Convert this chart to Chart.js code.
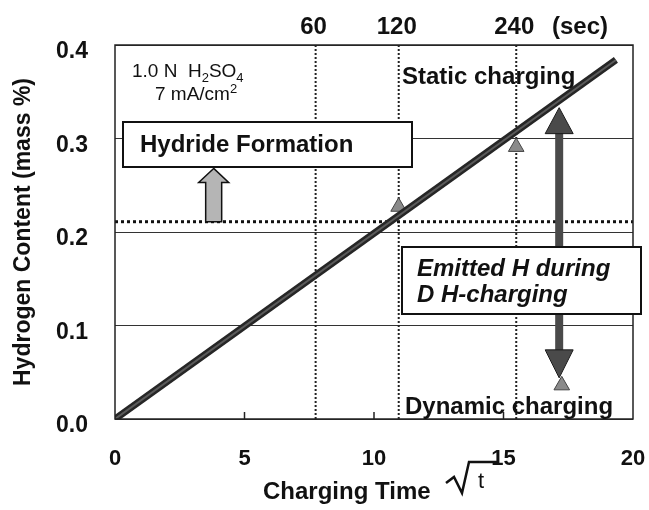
<!DOCTYPE html>
<html>
<head>
<meta charset="utf-8">
<script src="https://cdn.jsdelivr.net/npm/chart.js@4.4.1/dist/chart.umd.min.js"></script>
<style>
  html, body { margin: 0; padding: 0; background: #fff; }
  #wrap { width: 649px; height: 510px; }
</style>
</head>
<body>
<div id="wrap"><canvas id="myChart" width="649" height="510"></canvas></div>
<script>
// chart values
const xTicks = [0, 5, 10, 15, 20];
const yTicks = [0, 0.1, 0.2, 0.3, 0.4];
const secValues = [60, 120, 240];
const secLabels = ['60', '120', '240'];

// static charging line (sqrt t vs mass %)
const lineX = [0, 19.34];
const lineY = [0, 0.384];

// hydride formation level
const hydrideLevel = 0.211;

// gray triangle markers (dynamic charging results)
const markerX = [10.95, 15.49, 17.25];
const markerY = [0.227, 0.291, 0.036];

// arrows
const emitArrowX = 17.15;
const emitArrowY = [0.044, 0.333];
const hydrideArrowX = 3.81;
const hydrideArrowY = [0.211, 0.268];

const FONT = "'Liberation Sans', Arial, sans-serif";
Chart.defaults.font.family = FONT;
Chart.defaults.color = '#111';

function sqrtSec(s) { return Math.sqrt(s); }

// dotted vertical lines at 60, 120, 240 sec
const verticalSets = secValues.map(function(s) {
    return {
        data: [{x: sqrtSec(s), y: 0}, {x: sqrtSec(s), y: 0.4}],
        showLine: true,
        borderColor: '#222',
        borderWidth: 2,
        borderDash: [2, 2],
        pointRadius: 0,
        order: 5
    };
});

// keep chart area where the picture has it
function noSidePad(s) {
    s.paddingLeft = 0;
    s.paddingRight = 0;
}

const annotate = {
    id: 'annotate',
    afterDatasetsDraw(chart) {
        const c = chart.ctx;
        const xs = chart.scales.x, ys = chart.scales.y;
        const a = chart.chartArea;
        const px = v => xs.getPixelForValue(v);
        const py = v => ys.getPixelForValue(v);

        // small tick marks on bottom axis
        c.save();
        c.strokeStyle = '#222';
        c.lineWidth = 1.5;
        xTicks.slice(1, -1).forEach(function(v) {
            c.beginPath();
            c.moveTo(px(v), a.bottom);
            c.lineTo(px(v), a.bottom - 7);
            c.stroke();
        });

        // frame
        c.lineWidth = 1.5;
        c.strokeStyle = '#222';
        c.strokeRect(a.left, a.top, a.right - a.left, a.bottom - a.top);

        // big double arrow (emitted H)
        const ax = px(emitArrowX);
        const yTop = py(emitArrowY[1]), yBot = py(emitArrowY[0]);
        c.fillStyle = '#4a4a4a';
        c.strokeStyle = '#1a1a1a';
        c.lineWidth = 1;
        c.fillRect(ax - 4, yTop + 24, 8, yBot - yTop - 48);
        c.beginPath();
        c.moveTo(ax, yTop); c.lineTo(ax + 14, yTop + 26); c.lineTo(ax - 14, yTop + 26); c.closePath();
        c.fill(); c.stroke();
        c.beginPath();
        c.moveTo(ax, yBot); c.lineTo(ax + 14, yBot - 28); c.lineTo(ax - 14, yBot - 28); c.closePath();
        c.fill(); c.stroke();

        // hydride up arrow
        const hx = px(hydrideArrowX);
        const hb = py(hydrideArrowY[0]), ht = py(hydrideArrowY[1]);
        c.fillStyle = '#b5b5b5';
        c.strokeStyle = '#111';
        c.lineWidth = 1.5;
        c.beginPath();
        c.moveTo(hx, ht);
        c.lineTo(hx + 15, ht + 14);
        c.lineTo(hx + 8, ht + 14);
        c.lineTo(hx + 8, hb);
        c.lineTo(hx - 8, hb);
        c.lineTo(hx - 8, ht + 14);
        c.lineTo(hx - 15, ht + 14);
        c.closePath();
        c.fill(); c.stroke();

        // boxes
        c.fillStyle = '#fff';
        c.strokeStyle = '#111';
        c.lineWidth = 2;
        c.fillRect(123, 122, 289, 45);
        c.strokeRect(123, 122, 289, 45);
        c.fillRect(402, 247, 239, 67);
        c.strokeRect(402, 247, 239, 67);

        // texts
        c.fillStyle = '#111';
        c.textBaseline = 'middle';
        c.textAlign = 'left';
        c.font = 'bold 24px ' + FONT;
        c.fillText('Hydride Formation', 140, 145);

        c.font = 'italic bold 24px ' + FONT;
        c.fillText('Emitted H during', 417, 269);
        c.fillText('D H-charging', 417, 295);

        c.font = 'bold 24px ' + FONT;
        c.fillText('Static charging', 402, 77);
        c.fillText('Dynamic charging', 405, 407);

        // electrolyte conditions
        c.font = '19px ' + FONT;
        let x = 132;
        c.fillText('1.0 N  H', x, 72);
        x += c.measureText('1.0 N  H').width;
        c.font = '13px ' + FONT;
        c.fillText('2', x, 78);
        x += c.measureText('2').width;
        c.font = '19px ' + FONT;
        c.fillText('SO', x, 72);
        x += c.measureText('SO').width;
        c.font = '13px ' + FONT;
        c.fillText('4', x, 78);
        x = 155;
        c.font = '19px ' + FONT;
        c.fillText('7 mA/cm', x, 95);
        x += c.measureText('7 mA/cm').width;
        c.font = '13px ' + FONT;
        c.fillText('2', x, 89);

        // (sec) unit on top axis
        c.font = 'bold 24px ' + FONT;
        c.textAlign = 'center';
        c.fillText('(sec)', 580, 27);

        // x title with radical
        c.textAlign = 'left';
        c.font = 'bold 24px ' + FONT;
        c.fillText('Charging Time', 263, 492);
        c.strokeStyle = '#111';
        c.lineWidth = 2.5;
        c.beginPath();
        c.moveTo(446, 483);
        c.lineTo(454, 477);
        c.lineTo(462, 493);
        c.lineTo(469, 462);
        c.lineTo(497, 462);
        c.stroke();
        c.font = '22px ' + FONT;
        c.fillText('t', 478, 482);
        c.restore();
    }
};

document.addEventListener('DOMContentLoaded', function() {
    const ctx = document.getElementById('myChart').getContext('2d');
    const lineData = lineX.map((v, i) => ({x: v, y: lineY[i]}));
    const myChart = new Chart(ctx, {
        type: 'scatter',
        data: {
            datasets: [
                {
                    label: 'Static charging core',
                    data: lineData,
                    showLine: true,
                    borderColor: '#5a5a5a',
                    borderWidth: 2,
                    pointRadius: 0,
                    order: 0
                },
                {
                    label: 'Static charging',
                    data: lineData,
                    showLine: true,
                    borderColor: '#262626',
                    borderWidth: 7,
                    pointRadius: 0,
                    order: 1
                },
                {
                    label: 'Hydride level',
                    data: [{x: 0, y: hydrideLevel}, {x: 20, y: hydrideLevel}],
                    showLine: true,
                    borderColor: '#111',
                    borderWidth: 3,
                    borderDash: [3, 3],
                    pointRadius: 0,
                    order: 4
                },
                {
                    label: 'Dynamic charging',
                    data: markerX.map((v, i) => ({x: v, y: markerY[i]})),
                    pointStyle: 'triangle',
                    pointRadius: 9,
                    backgroundColor: '#8a8a8a',
                    borderColor: '#444',
                    borderWidth: 1,
                    order: 2
                },
                ...verticalSets
            ]
        },
        options: {
            responsive: false,
            animation: false,
            devicePixelRatio: 1,
            layout: { padding: { left: 0, right: 16, top: 0, bottom: 0 } },
            plugins: { legend: { display: false }, tooltip: { enabled: false } },
            scales: {
                x: {
                    type: 'linear',
                    position: 'bottom',
                    min: 0, max: 20,
                    afterBuildTicks: s => { s.ticks = xTicks.map(v => ({value: v})); },
                    afterFit: s => { s.height = 91; noSidePad(s); },
                    grid: { display: false, drawTicks: false },
                    border: { display: false },
                    ticks: { padding: 27, font: { size: 22, weight: 'bold' }, color: '#111' }
                },
                x2: {
                    type: 'linear',
                    position: 'top',
                    min: 0, max: 20,
                    afterBuildTicks: s => { s.ticks = secValues.map(v => ({value: sqrtSec(v)})); },
                    afterFit: s => { s.height = 45; noSidePad(s); },
                    grid: { display: false, drawTicks: false },
                    border: { display: false },
                    ticks: {
                        padding: 3,
                        labelOffset: -2,
                        font: { size: 24, weight: 'bold' },
                        color: '#111',
                        callback: (v, i) => secLabels[i]
                    }
                },
                y: {
                    min: 0, max: 0.4,
                    afterBuildTicks: s => { s.ticks = yTicks.map(v => ({value: v})); },
                    afterFit: s => { s.width = 115; },
                    grid: { color: '#333', lineWidth: 1, drawTicks: false },
                    border: { display: false },
                    ticks: {
                        padding: 27,
                        labelOffset: 7,
                        font: { size: 23, weight: 'bold' },
                        color: '#111',
                        callback: v => v.toFixed(1)
                    },
                    title: {
                        display: true,
                        text: 'Hydrogen Content (mass %)',
                        font: { size: 23, weight: 'bold' },
                        color: '#111',
                        padding: { top: 10, bottom: 0 }
                    }
                }
            }
        },
        plugins: [annotate]
    });
});
</script>
</body>
</html>
